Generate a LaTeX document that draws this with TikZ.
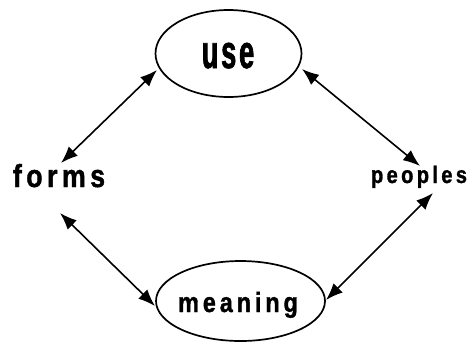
\documentclass[tikz,border=0pt]{standalone}
\usepackage{fontspec}
\usetikzlibrary{arrows.meta}
\newfontfamily\labfont{Liberation Sans}[FakeStretch=0.84,LetterSpace=14,FakeBold=1.2]
\newfontfamily\usefontfam{Liberation Sans}[FakeStretch=0.58,LetterSpace=6,FakeBold=1.5]
\tikzset{
  oval/.style={draw,line width=1.7bp},
  lbl/.style={anchor=base,inner sep=0pt},
  link/.style={line width=1.6bp,{Latex[length=17bp,width=13bp]}-{Latex[length=17bp,width=13bp]}},
}
\begin{document}
\begin{tikzpicture}[x=1bp,y=-1bp]
\useasboundingbox (0,0) rectangle (468,342);
\draw[oval] (228.5,53.5) ellipse [x radius=73, y radius=43.5];
\draw[oval] (240.5,301) ellipse [x radius=84.5, y radius=40];
\node[lbl] (use) at (228,68) {\usefontfam\bfseries\fontsize{47}{47}\selectfont use};
\node[lbl] (meaning) at (238,312) {\labfont\bfseries\fontsize{28}{28}\selectfont meaning};
\node[lbl] (forms) at (59,187) {\labfont\bfseries\fontsize{32}{32}\selectfont forms};
\node[lbl] (peoples) at (419,183) {\labfont\bfseries\fontsize{24}{24}\selectfont peoples};
\coordinate (a1) at (157,70); \coordinate (a2) at (61,163);
\coordinate (b1) at (302,69); \coordinate (b2) at (420,166);
\coordinate (c1) at (60,213); \coordinate (c2) at (155,306);
\coordinate (d1) at (433,193); \coordinate (d2) at (326,300);
\draw[link] (a1) -- (a2);
\draw[link] (b1) -- (b2);
\draw[link] (c1) -- (c2);
\draw[link] (d1) -- (d2);
\end{tikzpicture}
\end{document}
